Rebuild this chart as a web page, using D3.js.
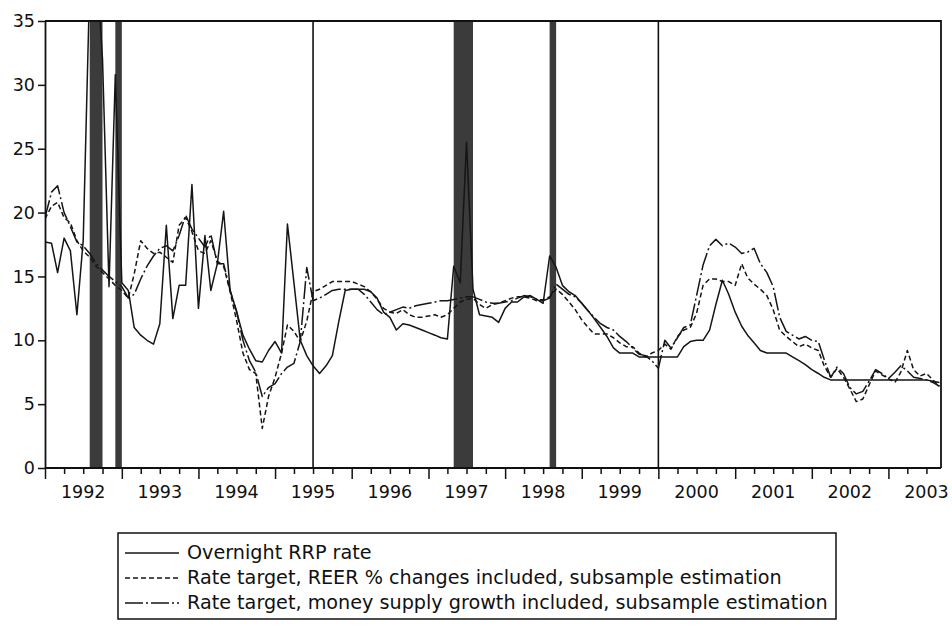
<!DOCTYPE html>
<html>
<head>
<meta charset="utf-8">
<script src="https://cdn.jsdelivr.net/npm/d3@7"></script>
<style>
  html, body { margin: 0; padding: 0; background: #fff; }
  svg { display: block; }
  text { font-family: "DejaVu Sans", "Open Sans", sans-serif; fill: #111; }
</style>
</head>
<body>
<svg id="chart" width="952" height="626"></svg>
<script>
// monthly observations, 1992M1 .. 2003M9
const startMonth = new Date(1992, 0, 1);

const rrpRate = [
  17.7, 17.6, 15.3, 18.0, 17.0, 12.0, 17.8, 38.0, 40.0, 32.0, 14.2, 30.8,
  14.5, 13.9, 11.0, 10.4, 10.0, 9.7, 11.3, 19.0, 11.7, 14.3, 14.3, 22.2,
  12.5, 18.2, 13.9, 16.0, 20.1, 13.9, 12.3, 10.4, 9.3, 8.4, 8.3, 9.2,
  9.9, 9.0, 19.1, 14.5, 10.0, 8.8, 8.0, 7.4, 8.0, 8.8, 11.5, 13.9,
  14.0, 14.0, 14.0, 13.8, 13.3, 12.2, 11.8, 10.8, 11.3, 11.2, 11.0, 10.8,
  10.6, 10.4, 10.2, 10.1, 15.8, 14.5, 25.5, 14.0, 12.0, 11.9, 11.8, 11.4,
  12.5, 13.0, 13.0, 13.4, 13.5, 13.2, 12.9, 16.6, 15.7, 14.3, 13.8, 13.5,
  12.9, 12.3, 11.7, 11.0, 10.3, 9.4, 9.0, 9.0, 9.0, 8.7, 8.7, 8.7,
  8.7, 8.7, 8.7, 8.7, 9.5, 9.9, 10.0, 10.0, 10.8, 12.8, 14.7, 13.6,
  12.2, 11.1, 10.4, 9.8, 9.2, 9.0, 9.0, 9.0, 9.0, 8.7, 8.4, 8.1,
  7.7, 7.4, 7.1, 6.9, 6.9, 6.9, 6.9, 6.9, 6.9, 6.9, 6.9, 6.9,
  6.9, 6.9, 6.9, 6.9, 6.9, 6.9, 6.9, 6.8, 6.7
];

const targetReer = [
  19.5, 20.5, 20.8, 19.6, 19.2, 17.8, 17.0, 16.5, 15.8, 15.3, 14.8, 14.3,
  13.9, 13.3, 15.2, 17.8, 17.2, 16.8, 16.9, 16.5, 16.1, 19.0, 19.6, 18.5,
  17.0, 16.8, 17.8, 16.2, 15.8, 13.8, 11.6, 9.0, 7.7, 7.4, 3.1, 5.6,
  7.1, 9.0, 11.2, 10.7, 9.9, 11.5, 13.8, 14.0, 14.3, 14.6, 14.6, 14.6,
  14.6, 14.4, 14.2, 13.8, 13.2, 12.5, 12.2, 12.1, 12.4, 12.0, 11.8, 11.8,
  11.9, 12.0, 11.8, 12.0, 12.5, 13.0, 13.2, 13.3, 12.8, 12.5, 12.8, 12.9,
  13.1, 13.3, 13.4, 13.4, 13.3, 13.1, 13.2, 13.4, 14.0, 13.6, 13.0, 12.4,
  11.6, 11.0, 10.5, 10.5, 10.5, 10.2, 9.8, 9.5, 9.5, 9.0, 8.7, 9.0,
  9.2, 9.7, 9.3, 10.3, 10.8, 11.0, 12.1, 14.3, 14.8, 14.8, 14.6, 14.6,
  14.3, 16.0, 14.9, 14.4, 14.0, 13.5, 12.4, 10.8, 10.3, 9.9, 9.5, 9.7,
  9.4, 9.2, 8.0, 7.1, 7.8, 7.1, 6.2, 5.2, 5.4, 6.5, 7.6, 7.3,
  7.0, 6.7, 7.5, 9.2, 7.7, 7.2, 7.4, 6.9, 6.4
];

const targetMoney = [
  19.6, 21.6, 22.1, 20.0, 18.9, 17.7, 17.4, 16.8, 16.0, 15.5, 15.0, 14.6,
  14.2, 13.3, 13.6, 14.8, 15.8, 16.6, 17.2, 17.4, 17.0, 18.2, 19.8, 18.7,
  18.0, 17.3, 18.3, 16.0, 16.0, 13.9, 12.3, 10.0, 8.4, 7.5, 5.6, 6.3,
  6.6, 7.4, 7.9, 8.2, 9.9, 15.7, 13.1, 13.3, 13.6, 13.9, 14.0, 14.0,
  14.0, 14.0, 13.6, 13.0, 12.4, 12.0, 12.2, 12.4, 12.6, 12.5, 12.7, 12.8,
  12.9, 13.0, 13.1, 13.1, 13.2, 13.3, 13.4, 13.4, 13.2, 13.0, 12.9, 12.9,
  13.0, 13.1, 13.3, 13.5, 13.4, 13.2, 13.1, 13.3, 14.4, 14.0, 13.6, 13.4,
  12.9, 12.3, 11.8, 11.3, 11.0, 10.8, 10.3, 9.9, 9.4, 8.9, 8.8, 8.4,
  7.8, 10.0, 9.4, 10.2, 11.0, 11.2, 13.5, 15.9, 17.4, 17.9, 17.4, 17.6,
  17.3, 16.8, 16.9, 17.2, 16.0, 15.3, 14.2, 11.8, 10.7, 10.4, 10.1, 10.3,
  10.0, 9.9, 8.5, 7.1, 7.9, 7.4, 6.3, 5.8, 6.0, 6.8, 7.7, 7.4,
  7.0, 7.5, 8.0, 7.6, 7.1, 7.0, 6.9, 6.7, 6.4
];

// crisis periods (shaded) and subsample breaks
const shadedPeriods = [
  ["1992-08", "1992-10"],
  ["1992-12", "1993-01"],
  ["1997-05", "1997-08"],
  ["1998-08", "1998-09"]
];
const breakDates = ["1995-07", "2000-01"];

const yearLabels = ["1992", "1993", "1994", "1995", "1996", "1997", "1998", "1999", "2000", "2001", "2002", "2003"];
const yTicks = [0, 5, 10, 15, 20, 25, 30, 35];

const legendLabels = [
  "Overnight RRP rate",
  "Rate target, REER % changes included, subsample estimation",
  "Rate target, money supply growth included, subsample estimation"
];

const parseMonth = d3.timeParse("%Y-%m");
const monthAt = i => d3.timeMonth.offset(startMonth, i);

const series = [
  { name: legendLabels[0], values: rrpRate, dash: null },
  { name: legendLabels[1], values: targetReer, dash: "5,3" },
  { name: legendLabels[2], values: targetMoney, dash: "18,3,2,3" }
];

const svg = d3.select("#chart");
const plot = { left: 45, right: 941, top: 21, bottom: 468 };

const x = d3.scaleTime()
    .domain([new Date(1992, 0, 1), new Date(2004, 0, 1)])
    .range([plot.left, plot.left + 12 * 76.67]);

const y = d3.scaleLinear()
    .domain([0, 35])
    .range([plot.bottom, plot.top]);

svg.append("defs").append("clipPath")
    .attr("id", "plot-clip")
    .append("rect")
    .attr("x", plot.left)
    .attr("y", plot.top)
    .attr("width", plot.right - plot.left)
    .attr("height", plot.bottom - plot.top);

// SHADED PERIODS
svg.append("g")
    .selectAll("rect")
    .data(shadedPeriods)
    .enter().append("rect")
    .attr("x", d => x(parseMonth(d[0])))
    .attr("y", plot.top)
    .attr("width", d => x(parseMonth(d[1])) - x(parseMonth(d[0])))
    .attr("height", plot.bottom - plot.top)
    .attr("fill", "#3b3b3b");

// BREAK LINES
svg.append("g")
    .selectAll("line")
    .data(breakDates)
    .enter().append("line")
    .attr("x1", d => x(parseMonth(d)))
    .attr("x2", d => x(parseMonth(d)))
    .attr("y1", plot.top)
    .attr("y2", plot.bottom)
    .attr("stroke", "#111")
    .attr("stroke-width", 1.6);

// SERIES
const line = d3.line()
    .x((d, i) => x(monthAt(i)))
    .y(d => y(d));

svg.append("g")
    .attr("clip-path", "url(#plot-clip)")
    .selectAll("path")
    .data(series)
    .enter().append("path")
    .attr("fill", "none")
    .attr("stroke", "#151515")
    .attr("stroke-width", 1.5)
    .attr("stroke-linejoin", "round")
    .attr("stroke-dasharray", d => d.dash)
    .attr("d", d => line(d.values));

// FRAME (top and right)
svg.append("path")
    .attr("d", `M${plot.left},${plot.top}H${plot.right}V${plot.bottom}`)
    .attr("fill", "none")
    .attr("stroke", "#111")
    .attr("stroke-width", 1.8);

// Y AXIS
const yAxis = svg.append("g")
    .attr("transform", `translate(${plot.left},0)`)
    .call(d3.axisLeft(y).tickValues(yTicks).tickSize(7).tickPadding(3).tickSizeOuter(0));
yAxis.select(".domain").attr("stroke", "#111").attr("stroke-width", 1.8);
yAxis.selectAll(".tick line").attr("stroke", "#111").attr("stroke-width", 1.5);
yAxis.selectAll("text")
    .attr("font-family", "'DejaVu Sans', sans-serif")
    .attr("font-size", 17.5)
    .attr("fill", "#111");

// X AXIS
const yearStarts = yearLabels.map(d => new Date(+d, 0, 1));
const quarterTicks = d3.timeMonth.every(3).range(new Date(1992, 0, 1), x.invert(plot.right))
    .filter(d => d.getMonth() !== 0);

svg.append("line")
    .attr("x1", plot.left)
    .attr("x2", plot.right)
    .attr("y1", plot.bottom)
    .attr("y2", plot.bottom)
    .attr("stroke", "#111")
    .attr("stroke-width", 1.8);

svg.append("g")
    .attr("transform", `translate(0,${plot.bottom})`)
    .call(d3.axisBottom(x).tickValues(yearStarts).tickSize(11).tickFormat(""))
    .call(g => g.select(".domain").remove())
    .selectAll(".tick line").attr("stroke", "#111").attr("stroke-width", 1.5);

svg.append("g")
    .attr("transform", `translate(0,${plot.bottom})`)
    .call(d3.axisBottom(x).tickValues(quarterTicks).tickSize(6).tickFormat(""))
    .call(g => g.select(".domain").remove())
    .selectAll(".tick line").attr("stroke", "#111").attr("stroke-width", 1.5);

svg.append("g")
    .selectAll("text")
    .data(yearLabels)
    .enter().append("text")
    .attr("x", d => x(new Date(+d, 6, 1)))
    .attr("y", 498)
    .attr("text-anchor", "middle")
    .attr("font-size", 17.5)
    .text(d => d);

// LEGEND
const legend = svg.append("g");
legend.append("rect")
    .attr("x", 118)
    .attr("y", 533)
    .attr("width", 718)
    .attr("height", 86)
    .attr("fill", "none")
    .attr("stroke", "#111")
    .attr("stroke-width", 1.5);

const rows = legend.selectAll(".row")
    .data(series)
    .enter().append("g")
    .attr("class", "row")
    .attr("transform", (d, i) => `translate(0,${553 + i * 25})`);

rows.append("line")
    .attr("x1", 125)
    .attr("x2", 179)
    .attr("stroke", "#151515")
    .attr("stroke-width", 1.4)
    .attr("stroke-dasharray", d => d.dash);

rows.append("text")
    .attr("x", 187)
    .attr("y", 6)
    .attr("font-size", 19.2)
    .text(d => d.name);
</script>
</body>
</html>
